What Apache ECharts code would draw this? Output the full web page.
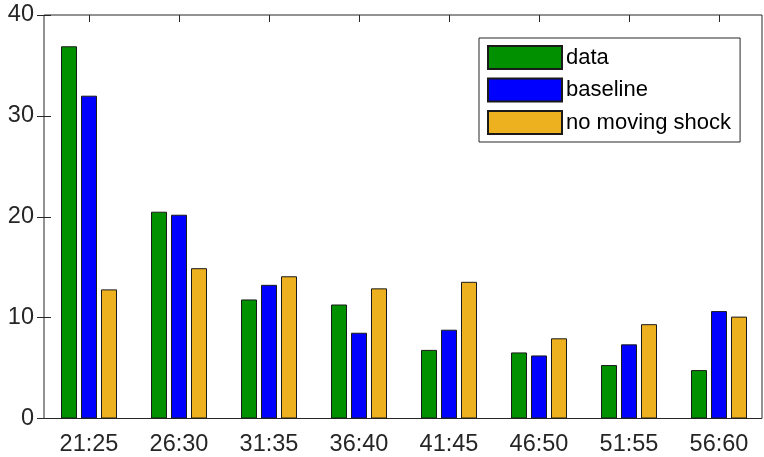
<!DOCTYPE html>
<html>
<head>
<meta charset="utf-8">
<script src="https://cdn.jsdelivr.net/npm/echarts@6/dist/echarts.min.js"></script>
<style>html,body{margin:0;padding:0;background:#fff;}#c{width:764px;height:457px;}</style>
</head>
<body>
<div id="c"></div>
<script>
const categories = ['21:25','26:30','31:35','36:40','41:45','46:50','51:55','56:60'];
const seriesNames = ['data','baseline','no moving shock'];
const dataValues = [36.9, 20.5, 11.8, 11.3, 6.8, 6.55, 5.3, 4.8];
const baselineValues = [32.0, 20.2, 13.25, 8.5, 8.8, 6.25, 7.35, 10.65];
const noShockValues = [12.8, 14.9, 14.1, 12.9, 13.55, 7.95, 9.35, 10.1];
const yTicks = [0, 10, 20, 30, 40];

const colors = ['#009000', '#0000ff', '#edb120'];
const textColor = '#262626';
const font = 'Liberation Sans, Arial, sans-serif';

const chart = echarts.init(document.getElementById('c'), null, {renderer: 'canvas'});
const valueSets = [dataValues, baselineValues, noShockValues];

chart.setOption({
  animation: false,
  backgroundColor: '#fff',
  grid: [
    {left: 44, width: 721, top: 15, bottom: 38.5, show: false},
    {left: 44, right: 2, top: 15, bottom: 38.5, show: true, borderColor: textColor, borderWidth: 1, backgroundColor: 'transparent'}
  ],
  legend: {
    orient: 'vertical',
    left: 479, top: 38,
    padding: [7, 9, 7, 8],
    itemWidth: 74, itemHeight: 23, itemGap: 7.5,
    icon: 'rect',
    backgroundColor: '#fff',
    borderColor: textColor, borderWidth: 1,
    textStyle: {fontSize: 22, color: '#000', fontFamily: font, padding: [0, 0, 0, -1]},
    data: seriesNames
  },
  xAxis: [
    {type: 'category', gridIndex: 0, data: categories,
     axisLine: {show: false},
     axisTick: {show: true, inside: true, alignWithLabel: true, length: 7, lineStyle: {color: textColor}},
     axisLabel: {fontSize: 23.5, color: textColor, fontFamily: font, margin: 14}},
    {type: 'category', gridIndex: 0, position: 'top', data: categories,
     axisLine: {show: false},
     axisTick: {show: true, inside: true, alignWithLabel: true, length: 7, lineStyle: {color: textColor}},
     axisLabel: {show: false}},
    {type: 'value', gridIndex: 1, show: false}
  ],
  yAxis: [
    {type: 'value', gridIndex: 0, min: 0, max: 40, interval: 10,
     axisLine: {show: false}, splitLine: {show: false},
     axisTick: {show: true, inside: true, length: 7, lineStyle: {color: textColor}},
     axisLabel: {fontSize: 23.5, color: textColor, fontFamily: font, margin: 10,
       formatter: v => yTicks.includes(v) ? String(v) : ''}},
    {type: 'value', gridIndex: 1, position: 'right', min: 0, max: 40, interval: 10,
     axisLine: {show: false}, splitLine: {show: false},
     axisTick: {show: true, inside: true, length: 7, lineStyle: {color: textColor}},
     axisLabel: {show: false}}
  ],
  series: seriesNames.map((name, i) => ({
    name: name,
    type: 'bar',
    xAxisIndex: 0, yAxisIndex: 0,
    data: valueSets[i],
    barWidth: 16,
    barGap: '25%',
    itemStyle: {color: colors[i], borderColor: '#1a1a1a', borderWidth: 1}
  }))
});
</script>
</body>
</html>
